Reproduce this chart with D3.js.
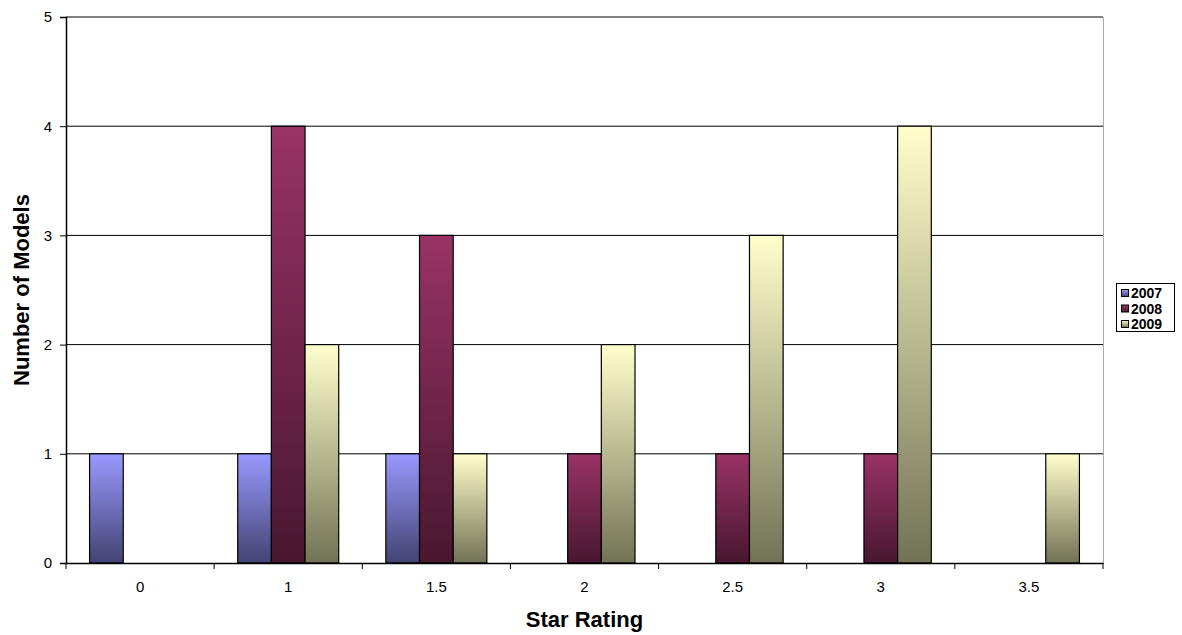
<!DOCTYPE html>
<html>
<head>
<meta charset="utf-8">
<script src="https://cdn.jsdelivr.net/npm/d3@7"></script>
<style>
  body { margin: 0; background: #fff; }
  svg { display: block; font-family: "Liberation Sans", Arial, sans-serif; }
</style>
</head>
<body>
<svg id="chart" width="1182" height="635"></svg>
<script>
const categories = ["0", "1", "1.5", "2", "2.5", "3", "3.5"];
const seriesNames = ["2007", "2008", "2009"];
const values2007 = [1, 1, 1, 0, 0, 0, 0];
const values2008 = [0, 4, 3, 1, 1, 1, 0];
const values2009 = [0, 2, 1, 2, 3, 4, 1];
const yTicks = [0, 1, 2, 3, 4, 5];
const seriesColors = {
  "2007": ["#9999FF", "#434373"],
  "2008": ["#993366", "#48172E"],
  "2009": ["#FFFFCC", "#727256"]
};

const series = [
  { name: "2007", values: values2007 },
  { name: "2008", values: values2008 },
  { name: "2009", values: values2009 }
];

const svg = d3.select("#chart");
const plotL = 66, plotR = 1103, plotT = 17, plotB = 563;
const FONT = "Liberation Sans, Arial, sans-serif";

const x0 = d3.scaleBand().domain(categories).range([plotL, plotR]).paddingInner(0).paddingOuter(0);
const x1 = d3.scaleBand().domain(seriesNames).range([0, x0.bandwidth()]).paddingInner(0).paddingOuter(0.7);
const y = d3.scaleLinear().domain([0, 5]).range([plotB, plotT]);

// gradients
const defs = svg.append("defs");
seriesNames.forEach((s, i) => {
  const g = defs.append("linearGradient").attr("id", "grad" + i)
    .attr("x1", 0).attr("y1", 0).attr("x2", 0).attr("y2", 1);
  g.append("stop").attr("offset", "0%").attr("stop-color", seriesColors[s][0]);
  g.append("stop").attr("offset", "100%").attr("stop-color", seriesColors[s][1]);
});

// gridlines
svg.append("g").selectAll("line").data(yTicks.filter(d => d > 0)).join("line")
  .attr("x1", plotL).attr("x2", plotR)
  .attr("y1", d => y(d)).attr("y2", d => y(d))
  .attr("stroke", "#000").attr("stroke-width", 1);

// right border of plot area
svg.append("line").attr("x1", plotR + 0.5).attr("x2", plotR + 0.5)
  .attr("y1", plotT).attr("y2", plotB).attr("stroke", "#aaa").attr("stroke-width", 1);

// bars
series.forEach((s, i) => {
  svg.append("g").selectAll("rect")
    .data(s.values.map((v, j) => ({ v, c: categories[j] })).filter(d => d.v > 0))
    .join("rect")
    .attr("x", d => x0(d.c) + x1(s.name))
    .attr("width", x1.bandwidth())
    .attr("y", d => y(d.v))
    .attr("height", d => y(0) - y(d.v))
    .attr("fill", "url(#grad" + i + ")")
    .attr("stroke", "#000").attr("stroke-width", 1.2);
});

// y axis
const yAxis = d3.axisLeft(y).tickValues(yTicks).tickSize(6).tickPadding(8).tickFormat(d3.format("d"));
const gy = svg.append("g").attr("transform", `translate(${plotL},0)`).call(yAxis);
gy.attr("font-size", 15).attr("font-family", FONT);
gy.select(".domain").attr("stroke", "#000").attr("stroke-width", 1.5);
gy.selectAll(".tick line").attr("stroke", "#000");
gy.selectAll(".tick text").attr("fill", "#000");

// x axis
const xAxis = d3.axisBottom(x0).tickSize(0).tickPadding(18);
const gx = svg.append("g").attr("transform", `translate(0,${plotB})`).call(xAxis);
gx.attr("font-size", 15).attr("font-family", FONT);
gx.select(".domain").attr("stroke", "#000").attr("stroke-width", 1.5);
gx.selectAll(".tick text").attr("fill", "#000");
// category boundary ticks
const bounds = categories.map(c => x0(c)).concat([plotR]);
svg.append("g").selectAll("line").data(bounds).join("line")
  .attr("x1", d => d).attr("x2", d => d)
  .attr("y1", plotB).attr("y2", plotB + 6)
  .attr("stroke", "#000").attr("stroke-width", 1);

// axis titles
svg.append("text").attr("x", (plotL + plotR) / 2).attr("y", 627)
  .attr("text-anchor", "middle").attr("font-weight", "bold").attr("font-size", 22)
  .attr("font-family", FONT)
  .text("Star Rating");
svg.append("text").attr("transform", `translate(29,${(plotT + plotB) / 2}) rotate(-90)`)
  .attr("text-anchor", "middle").attr("font-weight", "bold").attr("font-size", 22)
  .attr("font-family", FONT)
  .text("Number of Models");

// legend
const lg = svg.append("g");
lg.append("rect").attr("x", 1116.5).attr("y", 283.5).attr("width", 58).attr("height", 48)
  .attr("fill", "#fff").attr("stroke", "#000").attr("stroke-width", 1);
seriesNames.forEach((s, i) => {
  const cy = 293 + i * 15.5;
  lg.append("rect").attr("x", 1121.5).attr("y", cy - 3.5).attr("width", 7).attr("height", 7)
    .attr("fill", "url(#grad" + i + ")").attr("stroke", "#000").attr("stroke-width", 1);
  lg.append("text").attr("x", 1131).attr("y", cy + 5)
    .attr("font-size", 14).attr("font-weight", "bold").attr("font-family", FONT).text(s);
});
</script>
</body>
</html>
